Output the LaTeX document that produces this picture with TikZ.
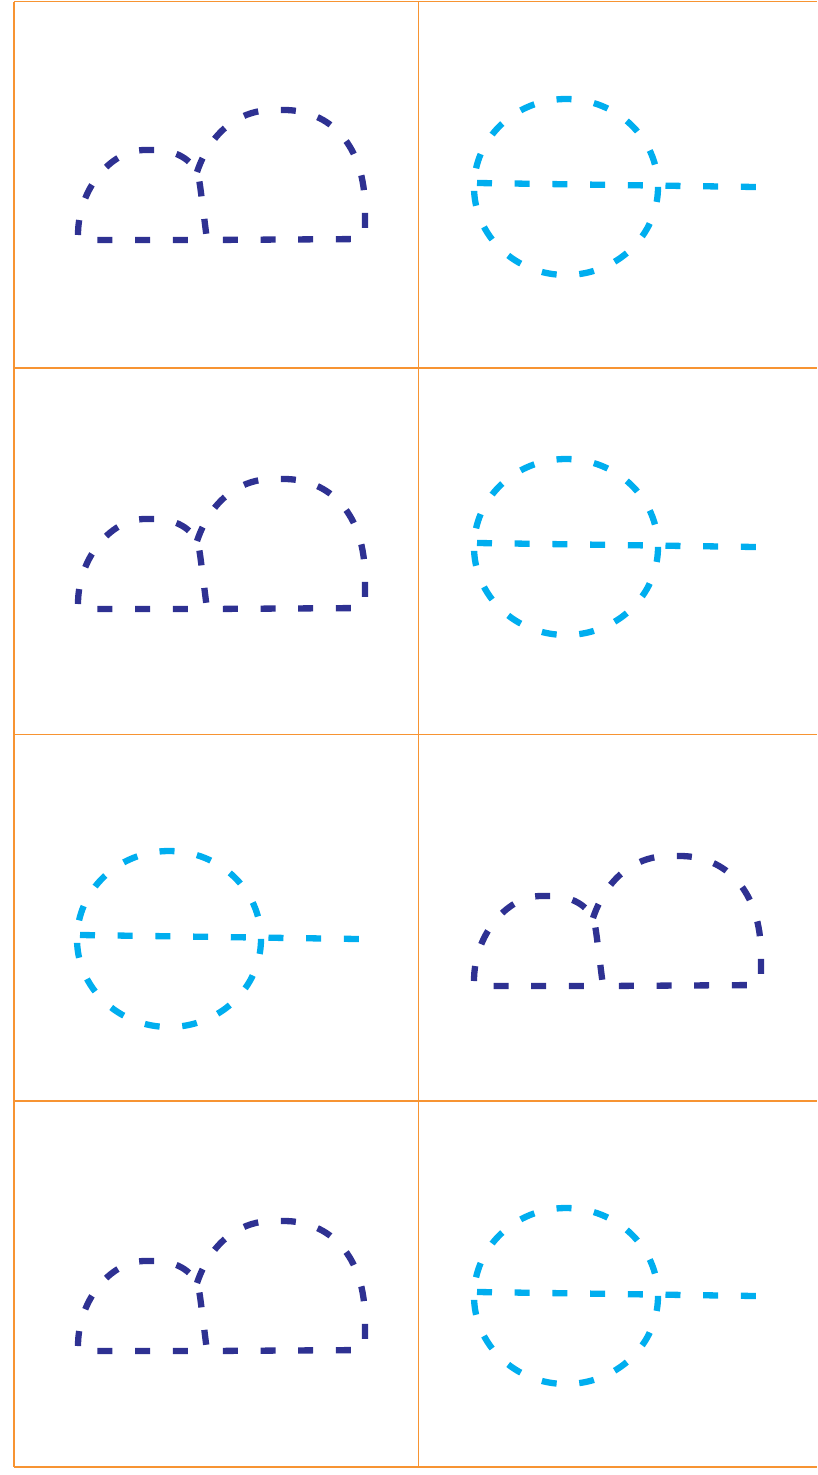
\documentclass[tikz,border=0pt]{standalone}
\usetikzlibrary{calc}
\definecolor{hillblue}{RGB}{46,49,146}
\definecolor{ringcyan}{RGB}{0,174,239}
\definecolor{gridorange}{RGB}{247,148,50}
\tikzset{gridline/.style={draw=gridorange, line width=1.5pt},
  dashline/.style={line width=6.3pt, dash pattern=on 15pt off 22.7pt},
  hills/.pic={
    \draw[dashline, draw=hillblue, rounded corners=5pt]
      (0,0) .. controls (0,-50) and (32,-90) .. (72,-90)
      .. controls (100,-90) and (118,-78) .. (122,-55) -- (129,0) -- cycle;
    \draw[dashline, draw=hillblue, rounded corners=6pt]
      (119,-68) .. controls (135,-115) and (168,-130) .. (200,-130)
      .. controls (252,-130) and (287,-95) .. (287,-25) -- (287,-1) -- (129,0);
  },
  ring/.pic={
    \draw[dashline, draw=ringcyan] (89,4) ellipse [x radius=92, y radius=88];
    \draw[dashline, draw=ringcyan] (0,0) -- (279,4);
  }}

\begin{document}
\begin{tikzpicture}[x=1pt, y=-1pt]
  \useasboundingbox (0,0) rectangle (817,1475);
  % grid
  \draw[gridline] (14,1.5) -- (817,1.5);
  \foreach \gy in {368,734.5,1101,1467}
    \draw[gridline] (14,\gy) -- (817,\gy);
  \draw[gridline] (14,1.5) -- (14,1467);
  \draw[gridline] (418.5,1.5) -- (418.5,1467);
  % cells
  \pic at (78,240) {hills};
  \pic at (477,183) {ring};
  \pic at (78,609) {hills};
  \pic at (477,543) {ring};
  \pic at (80,935) {ring};
  \pic at (474,986) {hills};
  \pic at (78,1351) {hills};
  \pic at (477,1292) {ring};
\end{tikzpicture}
\end{document}
